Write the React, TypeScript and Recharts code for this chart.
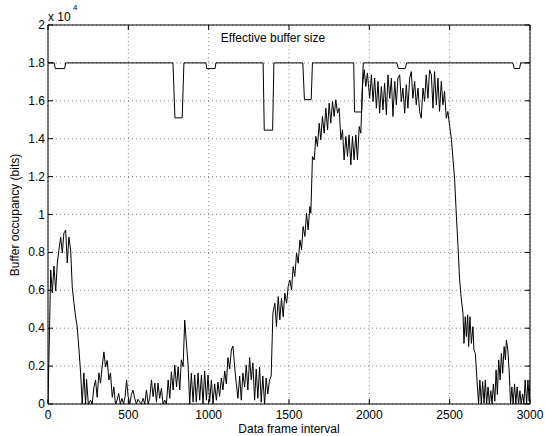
import React from 'react';
import { LineChart, Line, XAxis, YAxis, CartesianGrid } from 'recharts';

const FONT = '"Liberation Sans", Arial, Helvetica, sans-serif';

const xTicks = [0, 500, 1000, 1500, 2000, 2500, 3000];
const yTicks = [0, 2000, 4000, 6000, 8000, 10000, 12000, 14000, 16000, 18000, 20000];
const yTickLabels = ['0', '0.2', '0.4', '0.6', '0.8', '1', '1.2', '1.4', '1.6', '1.8', '2'];

const xLabel = 'Data frame interval';
const yLabel = 'Buffer occupancy (bits)';
const bufferLabel = 'Effective buffer size';

// Effective buffer size (bits)
const bufFrames = [0, 39, 45, 103, 110, 778, 790, 835, 846, 983, 988, 1040, 1045, 1339, 1346, 1398, 1406, 1586, 1596, 1638, 1646, 1903, 1908, 1952, 1962, 2171, 2181, 2222, 2233, 2893, 2902, 2935, 2942, 3000];
const bufValues = [18000, 18000, 17700, 17700, 18000, 18000, 15100, 15100, 18000, 18000, 17700, 17700, 18000, 18000, 14450, 14450, 18000, 18000, 16060, 16060, 18000, 18000, 15410, 15410, 18000, 18000, 17700, 17700, 18000, 18000, 17700, 17700, 18000, 18000];

// Buffer occupancy (bits)
const occFrames = [
  0, 17, 27, 37, 48, 58, 68, 79, 89, 99, 110, 120, 130, 141, 151, 162, 172, 182, 193, 203,
  213, 223, 234, 240, 251, 265, 275, 286, 296, 306, 317, 327, 337, 348, 358, 368, 379, 389, 400, 410,
  420, 430, 440, 450, 460, 470, 480, 489, 499, 509, 519, 529, 540, 550, 560, 571, 581, 592, 602, 613,
  623, 633, 644, 654, 665, 675, 685, 695, 706, 716, 727, 737, 748, 758, 768, 779, 789, 800, 810, 820,
  830, 841, 851, 861, 872, 882, 892, 903, 913, 923, 934, 944, 955, 965, 975, 986, 996, 1006, 1017, 1027,
  1037, 1048, 1058, 1068, 1079, 1089, 1100, 1110, 1120, 1131, 1141, 1151, 1162, 1172, 1182, 1193, 1203, 1213, 1224, 1234,
  1244, 1255, 1265, 1275, 1286, 1296, 1306, 1317, 1327, 1337, 1348, 1358, 1368, 1379, 1389, 1400, 1412, 1422, 1433, 1443,
  1453, 1464, 1474, 1485, 1495, 1505, 1516, 1526, 1536, 1547, 1557, 1568, 1578, 1588, 1599, 1609, 1619, 1630, 1636, 1646,
  1657, 1667, 1677, 1688, 1698, 1708, 1719, 1729, 1740, 1750, 1760, 1771, 1781, 1791, 1802, 1812, 1823, 1833, 1843, 1854,
  1864, 1874, 1885, 1895, 1905, 1916, 1926, 1937, 1947, 1957, 1968, 1978, 1988, 2002, 2013, 2023, 2033, 2044, 2054, 2064,
  2075, 2085, 2095, 2106, 2116, 2127, 2137, 2147, 2158, 2168, 2178, 2189, 2199, 2209, 2220, 2230, 2240, 2251, 2261, 2271,
  2282, 2292, 2303, 2313, 2323, 2334, 2344, 2354, 2365, 2375, 2386, 2396, 2406, 2417, 2427, 2437, 2448, 2458, 2468, 2479,
  2489, 2500, 2511, 2521, 2531, 2542, 2552, 2562, 2573, 2583, 2589, 2597, 2604, 2612, 2618, 2626, 2635, 2645, 2651, 2660,
  2670, 2680, 2688, 2697, 2705, 2714, 2722, 2730, 2739, 2747, 2756, 2764, 2772, 2781, 2789, 2797, 2805, 2814, 2822, 2830,
  2839, 2847, 2853, 2862, 2870, 2879, 2887, 2895, 2904, 2912, 2920, 2929, 2937, 2945, 2954, 2962, 2970, 2979, 2987, 2995,
  3000,
];
const occValues = [
  0, 7070, 5860, 7280, 5960, 7440, 8130, 8810, 7970, 9020, 9180, 7440, 8810, 8130, 6170, 5300, 4590, 4060, 2850, 1640,
  0, 1640, 0, 1300, 0, 200, 0, 900, 1270, 350, 1640, 1100, 1950, 2750, 1950, 2300, 1270, 1640, 350, 900,
  0, 200, 560, 0, 300, 0, 400, 1270, 385, 0, 500, 733, 300, 0, 250, 100, 0, 300, 0, 740,
  0, 300, 1270, 385, 1100, 100, 1100, 300, 830, 0, 200, 0, 1270, 300, 1700, 740, 2060, 900, 1970, 740,
  2330, 1970, 4430, 3270, 2060, 0, 1630, 100, 1530, 100, 1630, 200, 1530, 0, 1740, 200, 1530, 100, 1270, 0,
  1060, 200, 1160, 400, 1370, 740, 1740, 1060, 2450, 1850, 2850, 3060, 1950, 1060, 300, 1480, 200, 1630, 900, 2060,
  740, 2450, 1270, 2170, 200, 1850, 300, 1950, 100, 1480, 0, 1370, 530, 1270, 1480, 4800, 5320, 4090, 5670, 4440,
  5580, 4610, 5850, 5320, 6200, 6550, 6020, 7250, 6730, 7960, 7430, 8660, 8130, 9370, 8840, 10070, 9190, 10420, 10070, 13060,
  12880, 14120, 13590, 14820, 13940, 15170, 14290, 15610, 14470, 15880, 14820, 15960, 15170, 16050, 15350, 15610, 13940, 14470, 12880, 14120,
  13060, 14200, 12620, 14120, 12880, 14200, 12880, 14640, 14290, 16760, 17640, 16760, 17470, 16130, 17370, 15960, 17200, 15610, 17020, 15350,
  16760, 15520, 16940, 15260, 17370, 16130, 17200, 15170, 17020, 15790, 17200, 17370, 15960, 16670, 15350, 16850, 15610, 17200, 17540, 16130,
  17020, 15790, 16670, 15440, 15080, 16670, 15960, 17370, 16130, 17630, 17370, 15610, 17540, 15790, 17200, 15440, 17020, 15790, 16500, 15080,
  15440, 14650, 13950, 12890, 11830, 9890, 8310, 6550, 5490, 4790, 3200, 4610, 3560, 4700, 3030, 4610, 3200, 4080, 2850, 2670,
  1270, 0, 1270, 0, 1180, 50, 1270, 0, 900, 0, 700, 0, 1060, 150, 1800, 500, 2330, 1270, 2680, 1620,
  3030, 2330, 3380, 2850, 1800, 0, 900, 0, 1060, 0, 900, 0, 700, 0, 530, 0, 1270, 0, 1270, 150,
  1300,
];

const bufData = bufFrames.map((f, i) => ({ frame: f, value: bufValues[i] }));
const occData = occFrames.map((f, i) => ({ frame: f, value: occValues[i] }));

const yFmt = (v: number) => {
  const idx = yTicks.indexOf(v);
  return idx >= 0 ? yTickLabels[idx] : String(v / 10000);
};

const BottomTick = (props: any) => {
  const { x, y, payload } = props;
  return (
    <g>
      <line x1={x} x2={x} y1={y} y2={y - 5} stroke="#000" strokeWidth={1} />
      <text x={x} y={y + 15} textAnchor="middle" fontSize={12} fontFamily={FONT} fill="#000">
        {payload.value}
      </text>
    </g>
  );
};

const TopTick = (props: any) => {
  const { x, y } = props;
  return <line x1={x} x2={x} y1={y} y2={y + 5} stroke="#000" strokeWidth={1} />;
};

const LeftTick = (props: any) => {
  const { x, y, payload } = props;
  return (
    <g>
      <line x1={x} x2={x + 5} y1={y} y2={y} stroke="#000" strokeWidth={1} />
      <text x={x - 3} y={y + 4} textAnchor="end" fontSize={12} fontFamily={FONT} fill="#000">
        {yFmt(payload.value)}
      </text>
    </g>
  );
};

const RightTick = (props: any) => {
  const { x, y } = props;
  return <line x1={x} x2={x - 5} y1={y} y2={y} stroke="#000" strokeWidth={1} />;
};

const textBase: React.CSSProperties = {
  position: 'absolute',
  fontFamily: FONT,
  fontSize: 12,
  lineHeight: '14px',
  color: '#000',
  whiteSpace: 'nowrap',
};

export default function App() {
  return (
    <div style={{ position: 'absolute', left: 0, top: 0, width: 545, height: 436, background: '#fff' }}>
      <LineChart width={545} height={436} margin={{ top: 24, right: 14, bottom: 2, left: 8 }}>
        <CartesianGrid stroke="#888" strokeDasharray="1 3" strokeWidth={1} />
        <XAxis
          dataKey="frame"
          type="number"
          domain={[0, 3000]}
          allowDataOverflow
          ticks={xTicks}
          interval={0}
          height={30}
          tickSize={0}
          tickMargin={0}
          tickLine={false}
          axisLine={{ stroke: '#000' }}
          tick={<BottomTick />}
        />
        <XAxis
          xAxisId="t"
          orientation="top"
          dataKey="frame"
          type="number"
          domain={[0, 3000]}
          allowDataOverflow
          ticks={xTicks}
          interval={0}
          height={1}
          tickSize={0}
          tickMargin={0}
          tickLine={false}
          axisLine={{ stroke: '#000' }}
          tick={<TopTick />}
        />
        <YAxis
          type="number"
          domain={[0, 20000]}
          allowDataOverflow
          ticks={yTicks}
          interval={0}
          width={40}
          tickSize={0}
          tickMargin={0}
          tickLine={false}
          axisLine={{ stroke: '#000' }}
          tick={<LeftTick />}
        />
        <YAxis
          yAxisId="r"
          orientation="right"
          type="number"
          domain={[0, 20000]}
          allowDataOverflow
          ticks={yTicks}
          interval={0}
          width={1}
          tickSize={0}
          tickMargin={0}
          tickLine={false}
          axisLine={{ stroke: '#000' }}
          tick={<RightTick />}
        />
        <Line
          data={bufData}
          dataKey="value"
          type="linear"
          stroke="#000"
          strokeWidth={1}
          dot={false}
          isAnimationActive={false}
        />
        <Line
          data={occData}
          dataKey="value"
          type="linear"
          stroke="#000"
          strokeWidth={1}
          dot={false}
          isAnimationActive={false}
        />
      </LineChart>
      <div style={{ ...textBase, left: 48, top: 10 }}>x 10</div>
      <div style={{ ...textBase, left: 73, top: 3, fontSize: 8, lineHeight: '10px' }}>4</div>
      <div style={{ ...textBase, left: 173, top: 31, width: 200, textAlign: 'center' }}>{bufferLabel}</div>
      <div style={{ ...textBase, left: 189, top: 422, width: 200, textAlign: 'center' }}>{xLabel}</div>
      <div
        style={{
          ...textBase,
          left: 15 - 100,
          top: 215 - 7,
          width: 200,
          textAlign: 'center',
          transform: 'rotate(-90deg)',
          transformOrigin: '50% 50%',
        }}
      >
        {yLabel}
      </div>
    </div>
  );
}
